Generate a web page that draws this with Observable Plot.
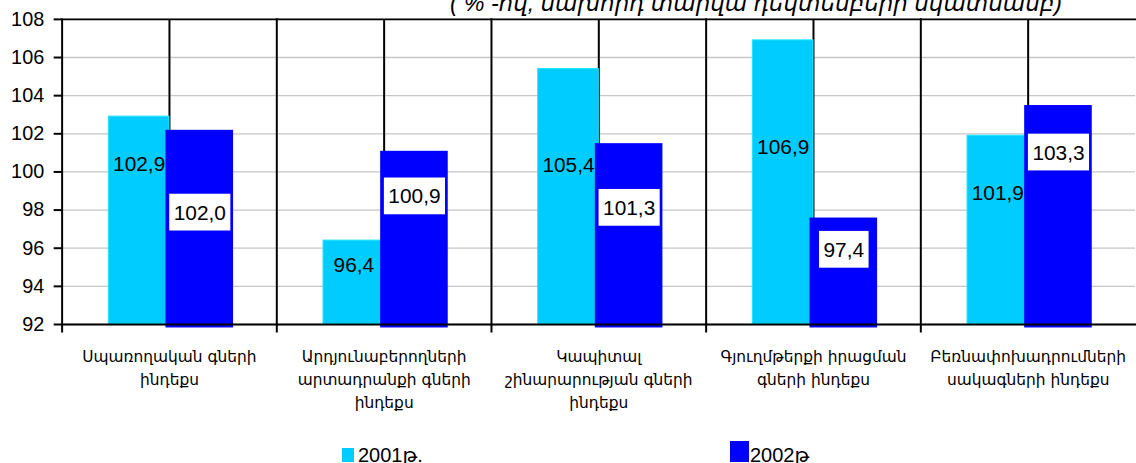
<!DOCTYPE html>
<html><head><meta charset="utf-8">
<script src="https://cdn.jsdelivr.net/npm/d3@7"></script>
<script src="https://cdn.jsdelivr.net/npm/@observablehq/plot@0.6"></script>
<style>
body{margin:0;background:#fff;}
#wrap{position:relative;width:1136px;height:463px;overflow:hidden;font-family:"Liberation Sans",Arial,"DejaVu Sans",sans-serif;color:#000;}
#chart{position:absolute;left:0;top:0;}
#title{position:absolute;top:-8px;right:74px;font-size:23px;font-style:italic;white-space:nowrap;line-height:23px;}
.leg{position:absolute;font-size:20px;line-height:20px;white-space:nowrap;}
.sw{position:absolute;}
</style></head><body>
<div id="wrap">
  <div id="chart"></div>
  <div id="title">( % -ով, նախորդ տարվա դեկտեմբերի նկատմամբ)</div>
  <div id="legend"></div>
</div>
<script>
// ---- data ----
const categories = [
  "Սպառողական գների\nինդեքս",
  "Արդյունաբերողների\nարտադրանքի գների\nինդեքս",
  "Կապիտալ\nշինարարության գների\nինդեքս",
  "Գյուղմթերքի իրացման\nգների ինդեքս",
  "Բեռնափոխադրումների\nսակագների ինդեքս"
];
const series = ["2001թ.", "2002թ"];
const values2001 = [102.9, 96.4, 105.4, 106.9, 101.9];
const values2002 = [102.0, 100.9, 101.3, 97.4, 103.3];
// where each value label sits (in axis units)
const labelAt2001 = [100.4, 95.1, 100.35, 101.3, 98.9];
const labelAt2002 = [97.85, 98.7, 98.1, 95.9, 101.0];
const yDomain = [92, 108];
const yTicks = [92, 94, 96, 98, 100, 102, 104, 106, 108];

const colors = {"2001թ.": "#00ccff", "2002թ": "#0000ff"};
const fmt = v => d3.format(".1f")(v).replace(".", ",");

const rows2001 = categories.map((c, i) => ({cat: c, series: series[0], value: values2001[i], at: labelAt2001[i]}));
const rows2002 = categories.map((c, i) => ({cat: c, series: series[1], value: values2002[i], at: labelAt2002[i]}));
const base = yDomain[0];

const plot = Plot.plot({
  width: 1143, height: 430,
  marginLeft: 60, marginRight: 0, marginTop: 19, marginBottom: 104,
  style: {fontFamily: "'Liberation Sans', Arial, sans-serif", background: "white", color: "black"},
  fx: {domain: categories, paddingInner: 0, paddingOuter: 0, label: null},
  x: {domain: series, paddingInner: 0, paddingOuter: 0.747, axis: null},
  y: {domain: yDomain, axis: null},
  marks: [
    Plot.gridY(yTicks, {stroke: "#c6c6c6", strokeOpacity: 1, strokeWidth: 1.3}),
    Plot.ruleX([0], {x: null, stroke: "black", strokeWidth: 2}),
    Plot.frame({anchor: "left", stroke: "black", strokeWidth: 2, insetBottom: -7}),
    Plot.frame({anchor: "top", stroke: "black", strokeWidth: 2}),
    Plot.barY(rows2001, {fx: "cat", x: "series", y1: () => base, y2: "value", fill: colors[series[0]], stroke: "#22e4ff", strokeWidth: 1}),
    Plot.barY(rows2002, {fx: "cat", x: "series", y1: () => base, y2: "value", fill: colors[series[1]], stroke: colors[series[1]], strokeWidth: 7}),
    Plot.frame({anchor: "bottom", stroke: "black", strokeWidth: 2}),
    Plot.text(rows2001, {fx: "cat", x: "series", y: "at", text: d => fmt(d.value), fontSize: 21, fill: "black"}),
    Plot.text(rows2002, {fx: "cat", x: "series", y: "at", text: d => fmt(d.value), fontSize: 21, fill: "black", ariaDescription: "vlab2002"}),
    Plot.axisY(yTicks, {tickSize: 8, tickPadding: 10, fontSize: 20, stroke: "black", strokeWidth: 2, label: null}),
    Plot.axisFx({anchor: "bottom", tickSize: 0, tickPadding: 21, fontSize: 15.5, lineHeight: 1.5, label: null, fontFamily: "'DejaVu Sans', sans-serif"})
  ]
});
document.getElementById("chart").appendChild(plot);

// white boxes behind the 2002 value labels
plot.querySelectorAll('g[aria-description="vlab2002"] text').forEach(t => {
  const b = t.getBBox();
  const r = document.createElementNS("http://www.w3.org/2000/svg", "rect");
  const cy = b.y + b.height / 2;
  r.setAttribute("x", b.x - 4.5);
  r.setAttribute("y", cy - 18.5);
  r.setAttribute("width", b.width + 9);
  r.setAttribute("height", 37);
  r.setAttribute("fill", "white");
  r.setAttribute("stroke", "none");
  if (t.getAttribute("transform")) r.setAttribute("transform", t.getAttribute("transform"));
  t.parentNode.insertBefore(r, t);
});

// legend
const legend = document.getElementById("legend");
const legItems = [
  {s: series[0], sx: 342, sy: 448, w: 12, h: 14, tx: 358},
  {s: series[1], sx: 730, sy: 441, w: 19, h: 21, tx: 750}
];
legItems.forEach(it => {
  const sw = document.createElement("div");
  sw.className = "sw";
  Object.assign(sw.style, {left: it.sx + "px", top: it.sy + "px", width: it.w + "px", height: it.h + "px", background: colors[it.s]});
  legend.appendChild(sw);
  const tx = document.createElement("div");
  tx.className = "leg";
  Object.assign(tx.style, {left: it.tx + "px", top: "444.5px"});
  tx.textContent = it.s;
  legend.appendChild(tx);
});
</script>
</body></html>
